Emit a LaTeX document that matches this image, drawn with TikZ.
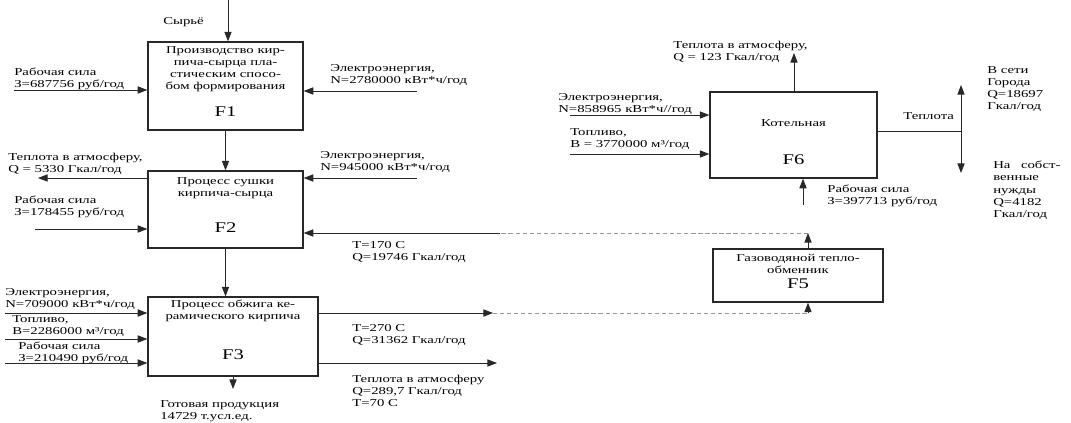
\documentclass[tikz,border=0pt]{standalone}
\usepackage{fontspec}
\setmainfont[FakeStretch=1.4]{Liberation Serif}
\usetikzlibrary{arrows.meta, positioning, calc}
\definecolor{lineC}{RGB}{40, 40, 40}
\definecolor{faintC}{RGB}{150, 150, 150}

\begin{document}
\begin{tikzpicture}[x=0.025cm, y=-0.025cm, font=\fontsize{7.5}{8.6}\selectfont,
        box/.style={draw=lineC, line width=0.9pt, inner sep=0pt},
        arr/.style={-{Triangle[length=2.4mm, width=1.8mm]}, line width=0.6pt, lineC},
        faint/.style={densely dashed, line width=0.6pt, faintC},
        lbl/.style={anchor=north west, align=left, inner sep=0pt},
        intxt/.style={anchor=north, align=center, inner sep=0pt},
        fnum/.style={inner sep=0pt, font=\fontsize{10.5}{12}\selectfont}]
        \useasboundingbox (0,0) rectangle (1071,422);

        % blocks
        \node[box, minimum width=3.875cm, minimum height=2.2cm] (F1) at (225.5,86) {};
        \node[box, minimum width=3.875cm, minimum height=1.925cm] (F2) at (225.5,209.5) {};
        \node[box, minimum width=4.25cm, minimum height=1.975cm] (F3) at (233,336.5) {};
        \node[box, minimum width=4.25cm, minimum height=1.325cm] (F5) at (798,275.5) {};
        \node[box, minimum width=4.175cm, minimum height=2.15cm] (F6) at (793.5,135) {};

        \node[intxt] (F1t) at (225.5,46) {Производство кир-\\пича-сырца пла-\\стическим спосо-\\бом формирования};
        \node[fnum] (F1n) at (225.5,112) {F1};
        \node[intxt] (F2t) at (225.5,177) {Процесс сушки\\кирпича-сырца};
        \node[fnum] (F2n) at (225.5,228) {F2};
        \node[intxt] (F3t) at (233,300) {Процесс обжига ке-\\рамического кирпича};
        \node[fnum] (F3n) at (233,355) {F3};
        \node[intxt] (F5t) at (798,254) {Газоводяной тепло-\\обменник};
        \node[fnum] (F5n) at (798,284) {F5};
        \node[inner sep=0pt] (F6t) at (793.5,123) {Котельная};
        \node[fnum] (F6n) at (793.5,160) {F6};

        % free ends
        \coordinate (src) at (228,0);
        \coordinate (w1) at (14,90);
        \coordinate (e1) at (417,91);
        \coordinate (h2) at (38,178);
        \coordinate (w2) at (35,229);
        \coordinate (e2) at (417,178);
        \coordinate (r2) at (808,233);
        \coordinate (r2m) at (500,233);
        \coordinate (e3) at (5,313);
        \coordinate (fu3) at (5,339);
        \coordinate (w3) at (5,363);
        \coordinate (o3a) at (493,313);
        \coordinate (o3b) at (808,313);
        \coordinate (o3c) at (497,363);
        \coordinate (prod) at (233,389);
        \coordinate (h6) at (794,53);
        \coordinate (e6) at (570,115);
        \coordinate (fu6) at (570,154);
        \coordinate (w6) at (803,205);
        \coordinate (sp) at (961,131);
        \coordinate (up6) at (961,85);
        \coordinate (dn6) at (961,173);

        % connectors
        \draw[arr] (src) -- (src |- F1.north);
        \draw[arr] (F1.south) -- (F2.north);
        \draw[arr] (F2.south) -- (F2.south |- F3.north);
        \draw[arr] (F3.south) -- (prod);
        \draw[arr] (w1) -- (w1 -| F1.west);
        \draw[arr] (e1) -- (e1 -| F1.east);
        \draw[arr] (h2 -| F2.west) -- (h2);
        \draw[arr] (w2) -- (w2 -| F2.west);
        \draw[arr] (e2) -- (e2 -| F2.east);
        \draw[arr] (r2m) -- (r2m -| F2.east);
        \draw[faint] (r2) -- (r2m);
        \draw[arr] (r2 |- F5.north) -- (r2);
        \draw[arr] (e3) -- (e3 -| F3.west);
        \draw[arr] (fu3) -- (fu3 -| F3.west);
        \draw[arr] (w3) -- (w3 -| F3.west);
        \draw[arr] (o3a -| F3.east) -- (o3a);
        \draw[faint] (o3a) -- (o3b);
        \draw[arr] (o3b) -- (o3b |- F5.south);
        \draw[arr] (o3c -| F3.east) -- (o3c);
        \draw[arr] (h6 |- F6.north) -- (h6);
        \draw[arr] (e6) -- (e6 -| F6.west);
        \draw[arr] (fu6) -- (fu6 -| F6.west);
        \draw[arr] (w6) -- (w6 |- F6.south);
        \draw[line width=0.6pt, lineC] (sp -| F6.east) -- (sp);
        \draw[arr] (sp) -- (up6);
        \draw[arr] (sp) -- (dn6);

        % labels
        \node[lbl] (raw) at (163,17) {Сырьё};
        \node[lbl] (lw1) at (14,68) {Рабочая сила\\З=687756 руб/год};
        \node[lbl] (le1) at (330,64) {Электроэнергия,\\N=2780000 кВт*ч/год};
        \node[lbl] (lh2) at (8,153) {Теплота в атмосферу,\\Q = 5330 Гкал/год};
        \node[lbl] (lw2) at (14,196) {Рабочая сила\\З=178455 руб/год};
        \node[lbl] (le2) at (320,151) {Электроэнергия,\\N=945000 кВт*ч/год};
        \node[lbl] (lr2) at (352,241) {Т=170 С\\Q=19746 Гкал/год};
        \node[lbl] (le3) at (5,288) {Электроэнергия,\\N=709000 кВт*ч/год};
        \node[lbl] (lfu3) at (12,315) {Топливо,\\В=2286000 м³/год};
        \node[lbl] (lw3) at (18,342) {Рабочая сила\\З=210490 руб/год};
        \node[lbl] (lprod) at (160,400) {Готовая продукция\\14729 т.усл.ед.};
        \node[lbl] (lo3a) at (352,324) {Т=270 С\\Q=31362 Гкал/год};
        \node[lbl] (lo3c) at (352,375) {Теплота в атмосферу\\Q=289,7 Гкал/год\\Т=70 С};
        \node[lbl] (lh6) at (673,41) {Теплота в атмосферу,\\Q = 123 Гкал/год};
        \node[lbl] (le6) at (558,93) {Электроэнергия,\\N=858965 кВт*ч//год};
        \node[lbl] (lfu6) at (570,128) {Топливо,\\В = 3770000 м³/год};
        \node[lbl] (lw6) at (827,185) {Рабочая сила\\З=397713 руб/год};
        \node[lbl] (lsp) at (903,112) {Теплота};
        \node[lbl] (lup6) at (987,66) {В сети\\Города\\Q=18697\\Гкал/год};
        \node[lbl] (ldn6) at (993,161) {На\quad собст-\\венные\\нужды\\Q=4182\\Гкал/год};
\end{tikzpicture}
\end{document}
